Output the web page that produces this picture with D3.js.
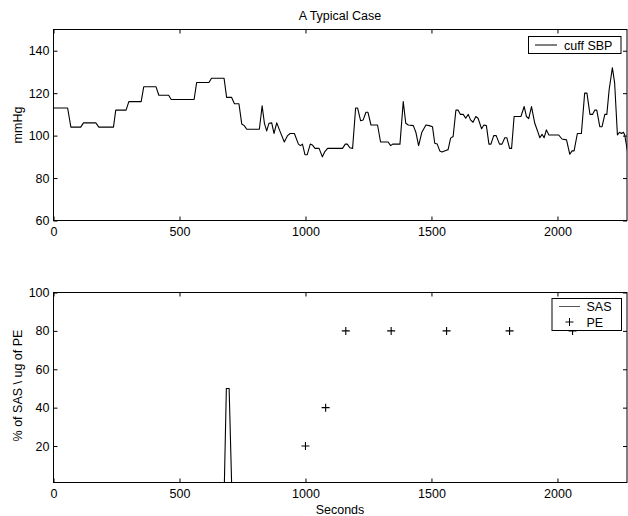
<!DOCTYPE html>
<html>
<head>
<meta charset="utf-8">
<script src="https://cdn.jsdelivr.net/npm/d3@7"></script>
<style>
  body { margin: 0; background: #fff; }
  svg { display: block; }
  text { font-family: "Liberation Sans", Arial, Helvetica, sans-serif; fill: #000; }
</style>
</head>
<body>
<svg id="chart"></svg>
<script>
// cuff SBP samples (seconds, mmHg)
const sbpSeconds = [
  0, 56, 69, 108, 119, 168, 180, 238, 247, 288,
  299, 348, 358, 407, 418, 457, 467, 558, 568, 617,
  627, 677, 687, 707, 718, 736, 747, 757, 767, 817,
  828, 837, 846, 855, 866, 875, 886, 899, 916, 929,
  939, 956, 972, 980, 988, 998, 1007, 1019, 1027, 1038,
  1054, 1067, 1077, 1088, 1147, 1158, 1166, 1176, 1187, 1199,
  1207, 1219, 1229, 1240, 1248, 1260, 1286, 1298, 1328, 1338,
  1346, 1375, 1388, 1398, 1408, 1428, 1438, 1449, 1462, 1478,
  1491, 1504, 1513, 1523, 1533, 1542, 1557, 1566, 1576, 1586,
  1597, 1606, 1615, 1626, 1636, 1646, 1655, 1665, 1676, 1685,
  1699, 1708, 1718, 1728, 1736, 1747, 1757, 1770, 1780, 1791,
  1799, 1810, 1818, 1828, 1855, 1868, 1877, 1886, 1897, 1910,
  1921, 1930, 1939, 1947, 1956, 1966, 2005, 2018, 2036, 2049,
  2058, 2066, 2079, 2095, 2108, 2117, 2129, 2139, 2148, 2156,
  2168, 2177, 2188, 2196, 2205, 2218, 2227, 2238, 2246, 2254,
  2262, 2267, 2278
];
const sbpMmHg = [
  113, 113, 104, 104, 106, 106, 104, 104, 112, 112,
  116, 116, 123, 123, 119, 119, 117, 117, 125, 125,
  127, 127, 118, 118, 115, 115, 105.5, 104.7, 103, 103,
  114, 105.8, 102.2, 105.8, 106, 101, 106, 102, 97, 100,
  101, 101, 96, 95.3, 96, 91, 91, 96, 95.6, 94,
  94, 90, 92.5, 94, 94, 96, 96, 94.3, 94, 113,
  113, 107, 107.4, 111, 111, 105, 105, 97, 97, 95.3,
  96, 96, 116, 105.8, 105, 104.7, 101.6, 95.3, 101.6, 105,
  104.7, 104.2, 96.4, 96, 92.8, 92.3, 93, 93.4, 98.8, 99.6,
  112, 112, 110, 110, 108.2, 110, 107.4, 106.3, 109, 108.2,
  103.2, 105, 104.7, 96, 96, 100, 100, 96, 96, 99,
  99, 94, 94, 109, 109, 113.7, 109, 108, 113.7, 105.8,
  102.2, 99, 100.6, 99, 102.7, 100.3, 100.3, 98.4, 98, 91.2,
  92.8, 92.8, 101, 101, 120, 120, 110, 110, 112, 112,
  104.2, 104.2, 110, 110, 121.5, 132, 124.7, 100.3, 101.6, 101,
  101.6, 100.3, 92.5
];

// SAS dose (% of SAS)
const sasSeconds = [0, 678, 686, 697, 707, 2276];
const sasPercent = [0, 0, 50, 50, 0, 0];

// PE boluses (ug)
const peSeconds = [1000, 1080, 1160, 1340, 1560, 1810, 2060];
const peUg = [20, 40, 80, 80, 80, 80, 80];

const xTicks = [0, 500, 1000, 1500, 2000];
const topYTicks = [60, 80, 100, 120, 140];
const bottomYTicks = [20, 40, 60, 80, 100];

const width = 628, height = 516;
const left = 53.5, right = 627;
const fontSize = 12.5;

const svg = d3.select('#chart')
  .attr('width', width)
  .attr('height', height);

svg.append('rect').attr('width', width).attr('height', height).attr('fill', '#fff');

const x = d3.scaleLinear().domain([0, 2276]).range([left, right]);

function drawFrame(g, y, top, bottom, yTicks, id) {
  // clip for the data
  svg.append('clipPath').attr('id', id)
    .append('rect')
    .attr('x', left).attr('y', top)
    .attr('width', right - left).attr('height', bottom - top);

  const xAxis = d3.axisBottom(x).tickValues(xTicks).tickFormat(d3.format('d'))
    .tickSizeInner(-4).tickSizeOuter(0).tickPadding(7);
  const xAxisTop = d3.axisTop(x).tickValues(xTicks).tickSizeInner(-4).tickSizeOuter(0).tickFormat('');
  const yAxis = d3.axisLeft(y).tickValues(yTicks).tickFormat(d3.format('d'))
    .tickSizeInner(-4).tickSizeOuter(0).tickPadding(4);
  const yAxisRight = d3.axisRight(y).tickValues(yTicks).tickSizeInner(-4).tickSizeOuter(0).tickFormat('');

  const axes = [
    [xAxis, `translate(0,${bottom})`],
    [xAxisTop, `translate(0,${top})`],
    [yAxis, `translate(${left},0)`],
    [yAxisRight, `translate(${right},0)`]
  ];
  axes.forEach(([a, t]) => {
    const ag = g.append('g').attr('transform', t).call(a);
    ag.select('.domain').remove();
    ag.selectAll('line').attr('stroke', '#000');
    ag.selectAll('text')
      .style('font-family', '"Liberation Sans", Arial, sans-serif')
      .style('font-size', fontSize + 'px')
      .attr('fill', '#000');
  });

  g.append('rect')
    .attr('x', left).attr('y', top)
    .attr('width', right - left).attr('height', bottom - top)
    .attr('fill', 'none')
    .attr('stroke', '#000')
    .attr('stroke-width', 1);
}

// ---- top panel: cuff SBP ----
const topTop = 29.5, topBottom = 220.5;
const yTop = d3.scaleLinear().domain([60, 150]).range([topBottom, topTop]);
const gTop = svg.append('g');

const sbpLine = d3.line()
  .x((d, i) => x(sbpSeconds[i]))
  .y(d => yTop(d));

gTop.append('path')
  .datum(sbpMmHg)
  .attr('clip-path', 'url(#clipTop)')
  .attr('d', sbpLine)
  .attr('fill', 'none')
  .attr('stroke', '#000')
  .attr('stroke-width', 1.1)
  .attr('stroke-linejoin', 'round');

drawFrame(gTop, yTop, topTop, topBottom, topYTicks, 'clipTop');

svg.append('text')
  .attr('x', 340).attr('y', 19.5)
  .attr('text-anchor', 'middle')
  .style('font-size', fontSize + 'px')
  .text('A Typical Case');

svg.append('text')
  .attr('transform', `translate(22,${(topTop + topBottom) / 2}) rotate(-90)`)
  .attr('text-anchor', 'middle')
  .style('font-size', fontSize + 'px')
  .text('mmHg');

// legend top
const lgTop = gTop.append('g');
lgTop.append('rect')
  .attr('x', 528.5).attr('y', 36.5).attr('width', 92.5).attr('height', 17)
  .attr('fill', '#fff').attr('stroke', '#000');
lgTop.append('line')
  .attr('x1', 535).attr('x2', 557).attr('y1', 45).attr('y2', 45)
  .attr('stroke', '#000');
lgTop.append('text')
  .attr('x', 564).attr('y', 49.5)
  .style('font-size', fontSize + 'px')
  .text('cuff SBP');

// ---- bottom panel: SAS and PE ----
const botTop = 292.5, botBottom = 482.5;
const yBot = d3.scaleLinear().domain([1, 100]).range([botBottom, botTop]);
const gBot = svg.append('g');

gBot.append('path')
  .datum(sasPercent)
  .attr('clip-path', 'url(#clipBot)')
  .attr('d', d3.line().x((d, i) => x(sasSeconds[i])).y(d => yBot(d)))
  .attr('fill', 'none')
  .attr('stroke', '#000')
  .attr('stroke-width', 1.1);

gBot.selectAll('.pe')
  .data(peUg)
  .enter()
  .append('path')
  .attr('class', 'pe')
  .attr('transform', (d, i) => `translate(${x(peSeconds[i])},${yBot(d)})`)
  .attr('d', 'M-4,0H4M0,-4V4')
  .attr('stroke', '#000')
  .attr('stroke-width', 1.1)
  .attr('fill', 'none');

drawFrame(gBot, yBot, botTop, botBottom, bottomYTicks, 'clipBot');

svg.append('text')
  .attr('x', 340).attr('y', 513.5)
  .attr('text-anchor', 'middle')
  .style('font-size', fontSize + 'px')
  .text('Seconds');

svg.append('text')
  .attr('transform', `translate(22,${(botTop + botBottom) / 2 - 2}) rotate(-90)`)
  .attr('text-anchor', 'middle')
  .style('font-size', fontSize + 'px')
  .text('% of SAS \\ ug of PE');

// legend bottom
const lgBot = gBot.append('g');
lgBot.append('rect')
  .attr('x', 552).attr('y', 298.5).attr('width', 69.5).attr('height', 32)
  .attr('fill', '#fff').attr('stroke', '#000');
lgBot.append('line')
  .attr('x1', 559).attr('x2', 580).attr('y1', 306.5).attr('y2', 306.5)
  .attr('stroke', '#555');
lgBot.append('text')
  .attr('x', 586.5).attr('y', 311)
  .style('font-size', fontSize + 'px')
  .text('SAS');
lgBot.append('path')
  .attr('transform', 'translate(569.5,322)')
  .attr('d', 'M-4,0H4M0,-4V4')
  .attr('stroke', '#000')
  .attr('fill', 'none');
lgBot.append('text')
  .attr('x', 586.5).attr('y', 326.5)
  .style('font-size', fontSize + 'px')
  .text('PE');
</script>
</body>
</html>
